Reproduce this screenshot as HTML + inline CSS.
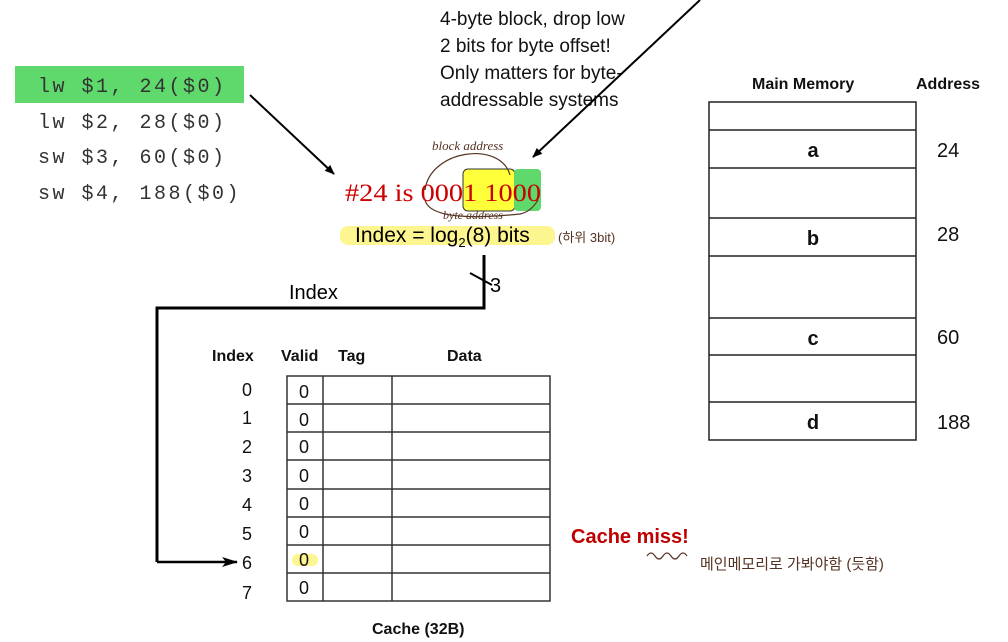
<!DOCTYPE html>
<html><head><meta charset="utf-8"><style>
html,body{margin:0;padding:0;background:#fff;width:1008px;height:642px;overflow:hidden}
</style></head><body>
<svg width="1008" height="642" viewBox="0 0 1008 642" xmlns="http://www.w3.org/2000/svg" font-family="'Liberation Sans', 'Noto Sans CJK KR', sans-serif">
<defs>
<marker id="ah" markerWidth="10" markerHeight="8" refX="9" refY="4" orient="auto" markerUnits="userSpaceOnUse"><path d="M0,0 L10,4 L0,8 z" fill="#000"/></marker>
<marker id="ah2" markerWidth="16" markerHeight="10" refX="15" refY="5" orient="auto" markerUnits="userSpaceOnUse"><path d="M0,0 L16,5 L0,10 L4,5 z" fill="#000"/></marker>
</defs>
<!-- code -->
<rect x="15" y="66" width="229" height="37" fill="#5fd96b"/>
<g font-family="'Liberation Mono', monospace" font-size="20" fill="#333" letter-spacing="2.5">
<text x="38" y="92">lw $1, 24($0)</text>
<text x="38" y="128">lw $2, 28($0)</text>
<text x="38" y="163">sw $3, 60($0)</text>
<text x="38" y="199">sw $4, 188($0)</text>
</g>
<line x1="250" y1="95" x2="334" y2="174" stroke="#000" stroke-width="2" marker-end="url(#ah)"/>
<!-- top note -->
<g font-size="19" fill="#111">
<text x="440" y="25">4-byte block, drop low</text>
<text x="440" y="52">2 bits for byte offset!</text>
<text x="440" y="79">Only matters for byte-</text>
<text x="440" y="106">addressable systems</text>
</g>
<line x1="700" y1="0" x2="533" y2="157" stroke="#000" stroke-width="2" marker-end="url(#ah)"/>
<!-- binary -->
<rect x="463" y="169" width="52" height="42" rx="5" fill="#ffff3a" stroke="#333" stroke-width="1"/>
<rect x="514" y="169" width="27" height="42" rx="4" fill="#5fd96b"/>
<path d="M425,190 C430,150 500,140 510,175" fill="none" stroke="#553322" stroke-width="1.2"/>
<path d="M425,200 C430,220 480,218 520,214 C530,212 535,205 538,200" fill="none" stroke="#553322" stroke-width="1.2"/>
<text x="432" y="150" font-size="13" fill="#553322" font-style="italic" font-family="'Liberation Serif', serif">block address</text>
<text x="443" y="219" font-size="12" fill="#553322" font-style="italic" font-family="'Liberation Serif', serif">byte address</text>
<text x="345" y="201" font-family="'Liberation Serif', serif" font-size="25" fill="#cc0000" textLength="196" lengthAdjust="spacingAndGlyphs">#24 is 0001 1000</text>
<rect x="340" y="226" width="215" height="19" rx="8" fill="#fdf590"/>
<text x="355" y="242" font-size="21" fill="#000">Index = log<tspan font-size="13" dy="5">2</tspan><tspan dy="-5">(8) bits</tspan></text>
<text x="558" y="242" font-size="13" fill="#553322">(하위 3bit)</text>
<!-- index path -->
<polyline points="484,255 484,308 157,308 157,562" fill="none" stroke="#000" stroke-width="3"/>
<line x1="157" y1="562" x2="237" y2="562" stroke="#000" stroke-width="2.5" marker-end="url(#ah2)"/>
<line x1="470" y1="273" x2="492" y2="285" stroke="#000" stroke-width="2"/>
<text x="490" y="292" font-size="20">3</text>
<text x="289" y="299" font-size="20">Index</text>
<!-- cache -->
<g font-size="16" font-weight="bold" fill="#111">
<text x="212" y="361">Index</text><text x="281" y="361">Valid</text><text x="338" y="361">Tag</text><text x="447" y="361">Data</text>
<text x="372" y="634">Cache (32B)</text>
</g>
<g stroke="#333" stroke-width="1.5" fill="none">
<rect x="287" y="376" width="263" height="225"/>
<line x1="323" y1="376" x2="323" y2="601"/><line x1="392" y1="376" x2="392" y2="601"/>
<line x1="287" y1="404" x2="550" y2="404"/><line x1="287" y1="432" x2="550" y2="432"/>
<line x1="287" y1="460" x2="550" y2="460"/><line x1="287" y1="489" x2="550" y2="489"/>
<line x1="287" y1="517" x2="550" y2="517"/><line x1="287" y1="545" x2="550" y2="545"/>
<line x1="287" y1="573" x2="550" y2="573"/>
</g>
<rect x="292" y="554" width="26" height="12" rx="6" fill="#fdf590"/>
<g font-size="18" fill="#111">
<text x="242" y="396">0</text><text x="242" y="424">1</text><text x="242" y="453">2</text><text x="242" y="482">3</text>
<text x="242" y="511">4</text><text x="242" y="540">5</text><text x="242" y="569">6</text><text x="242" y="599">7</text>
<text x="299" y="398">0</text><text x="299" y="426">0</text><text x="299" y="453">0</text><text x="299" y="482">0</text>
<text x="299" y="510">0</text><text x="299" y="538">0</text><text x="299" y="566">0</text><text x="299" y="594">0</text>
</g>
<!-- memory -->
<g font-size="16" font-weight="bold" fill="#111">
<text x="752" y="89">Main Memory</text><text x="916" y="89">Address</text>
</g>
<g stroke="#222" stroke-width="1.5" fill="none">
<rect x="709" y="102" width="207" height="338"/>
<line x1="709" y1="130" x2="916" y2="130"/><line x1="709" y1="168" x2="916" y2="168"/>
<line x1="709" y1="218" x2="916" y2="218"/><line x1="709" y1="256" x2="916" y2="256"/>
<line x1="709" y1="318" x2="916" y2="318"/><line x1="709" y1="355" x2="916" y2="355"/>
<line x1="709" y1="402" x2="916" y2="402"/>
</g>
<g font-size="20" font-weight="bold" fill="#111" text-anchor="middle">
<text x="813" y="157">a</text><text x="813" y="245">b</text><text x="813" y="345">c</text><text x="813" y="429">d</text>
</g>
<g font-size="20" fill="#111">
<text x="937" y="157">24</text><text x="937" y="241">28</text><text x="937" y="344">60</text><text x="937" y="429">188</text>
</g>
<text x="571" y="543" font-size="20" font-weight="bold" fill="#c00000">Cache miss!</text>
<path d="M647,556 q4,-6 8,0 q4,6 8,0 q4,-6 8,0 q4,6 8,0 q4,-6 8,0" fill="none" stroke="#553322" stroke-width="1.2"/>
<text x="700" y="569" font-size="15" fill="#553322">메인메모리로 가봐야함 (듯함)</text>
</svg>
</body></html>
